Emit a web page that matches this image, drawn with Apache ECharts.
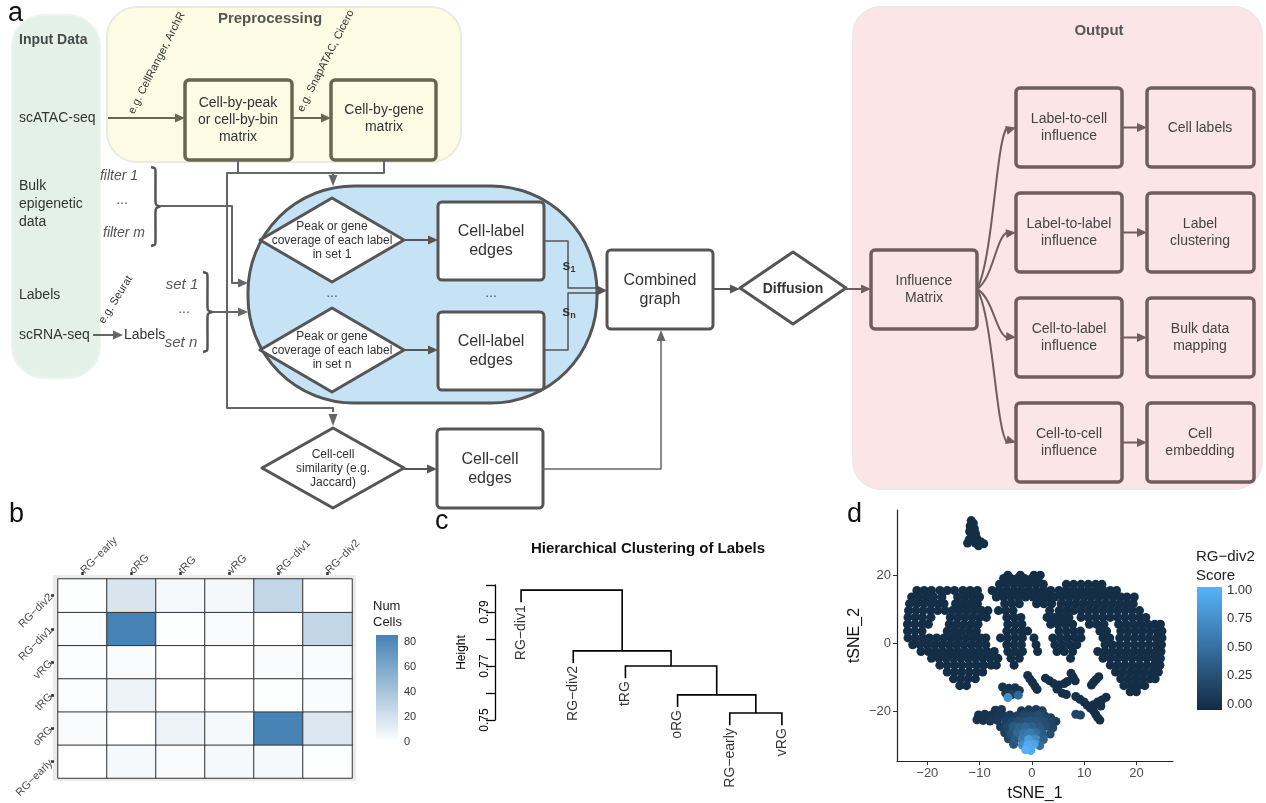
<!DOCTYPE html>
<html><head><meta charset="utf-8">
<script src="https://cdn.jsdelivr.net/npm/echarts@6/dist/echarts.min.js"></script>
<style>html,body{margin:0;padding:0;background:#fff}#c{width:1266px;height:803px}</style>
</head><body><div id="c"></div>
<script>
// ---------------- DATA ----------------
// panel b heatmap
const hmCols = ['RG−early','oRG','tRG','vRG','RG−div1','RG−div2'];
const hmRows = ['RG−early','oRG','tRG','vRG','RG−div1','RG−div2']; // bottom -> top
const hmValues = [
  [0, 4, 3, 4, 4, 1],     // RG−early
  [3, 0, 8, 4, 85, 17],   // oRG
  [2, 8, 0, 0, 1, 3],     // tRG
  [2, 3, 0, 0, 3, 3],     // vRG
  [2, 85, 1, 3, 0, 28],   // RG−div1
  [1, 18, 4, 5, 28, 0]    // RG−div2
];
const hmLegendTicks = [0, 20, 40, 60, 80];
const hmMax = 86;

// panel c dendrogram
const dendroLeaves = ['RG−div1','RG−div2','tRG','oRG','RG−early','vRG'];
// R hclust style merges: negative = leaf (1-based), positive = earlier merge
const dendroMerge = [[-5,-6,0.7526],[-4,1,0.7593],[-3,2,0.7700],[-2,3,0.7756],[-1,4,0.7981]];
const dendroHang = 0.0045;
const dendroTicks = [0.75,0.76,0.77,0.78,0.79,0.80];
const dendroLabels = [0.75,0.77,0.79];

// panel d tSNE
const tsneIsland = [[-11.6,36],[-11.2,35.2],[-11.8,34.4],[-11,33.6],[-11.9,32.8],[-10.8,32.2],[-11.6,31.4],[-10.6,31],[-12,30.4],[-11,30.2],[-9.8,29.8],[-12.3,29.4],[-10.8,29.4],[-9.2,29.2],[-10.2,28.6]];
const tsneMainRows = [
  [20.0, [-4.6,-2.2,0.4,1.6]],
  [19.0, [-5.4,-4,-2.8,-1.4,0,1.2]],
  [17.3, [-6.2,-4.8,-3.4,-2,-0.6,0.8,2.2,6.6,8,9.4,10.8,12.2,13.4]],
  [15.5, [-22,-20.6,-19.2,-17.6,-16.2,-14.8,-13.2,-11.8,-10.4,-7.6,-6.2,-4.8,-3.4,-2,-0.6,0.8,2.2,3.6,5.2,6.6,8,9.4,10.8,12.2,13.6,15,16.2]],
  [13.6, [-23,-21.6,-20.2,-18.8,-17.2,-14.2,-12.8,-11.4,-10,-6.8,-5.4,-4,-2.6,-1.2,0.2,1.6,3,4.4,5.8,7.2,8.6,10,11.4,12.8,14.2,15.6,17,18.2,19.6]],
  [11.6, [-23.4,-22,-20.6,-19.2,-17.8,-16.8,-14.6,-13.2,-11.8,-10.4,-5.2,-3.8,-2.4,0.9,2.3,3.8,5.6,7,8.4,9.8,11.2,12.6,14,15.4,16.8,18.2,19.4]],
  [9.6, [-23.6,-22.2,-20.8,-19.4,-18,-16.6,-15.2,-13.8,-12.4,-11,-9.6,-8.4,-6.4,-5,-3.6,3.4,5.2,6.6,8,9.4,10.8,12.2,13.6,15,16.4,17.8,19.2,20.6]],
  [7.6, [-23.7,-22.3,-20.9,-19.3,-15.6,-14.2,-12.8,-11.4,-10,-8.7,-4.8,-3.4,-2.1,2.9,4.3,5.7,7.1,9.4,10.8,12.2,13.6,15,16.4,17.8,19.2,20.6,21.8]],
  [5.6, [-23.8,-22.4,-21,-19.8,-15.8,-14.4,-13,-11.6,-10.3,-4.6,-3.2,-1.9,3.6,5,6.4,7.8,11,12.4,13.8,16.6,18,19.4,20.8,22.2,23.5,24.6]],
  [3.6, [-23.8,-22.4,-21,-16.2,-14.8,-13.4,-12,-10.6,-4.8,-3.4,-2,-0.8,5.2,6.6,8,9.3,13,14.3,17,18.4,19.8,21.2,22.6,24,24.9]],
  [1.6, [-23.7,-22.3,-20.9,-19.6,-18.2,-16.8,-15.4,-14,-12.6,-11.2,-9.8,-8.8,-6,-4.6,-3.2,-1.8,0.4,4,5.4,6.8,8.2,9.4,13.6,14.9,16.8,18.2,19.6,21,22.4,23.8,24.9]],
  [-0.4, [-22.8,-21.4,-20,-18.6,-17.2,-15.8,-14.4,-13,-11.6,-10.2,-8.8,-4.8,-3.4,-2,0.8,4.4,5.8,7.2,8.6,14,15.4,16.8,18.2,19.6,21,22.4,23.8,24.8]],
  [-2.4, [-21.2,-19.8,-18.4,-17,-15.6,-14.2,-12.8,-11.4,-10,-8.6,-7.2,-4.6,-3.2,-1.8,1.1,4.8,6.2,7.8,12.6,14,15.4,16.8,18.2,19.6,21,22.4,23.8,24.7]],
  [-4.4, [-19.2,-17.8,-16.4,-15,-13.6,-12.2,-10.8,-9.4,-8,-6.5,-4,-2.4,7.4,13.6,15,16.4,17.8,19.2,20.6,22,23.4,24.6]],
  [-6.4, [-17.6,-16.2,-14.8,-13.4,-12,-10.6,-9.2,-7.8,-6.8,-3.4,15,16.4,17.8,19.2,20.6,22,23.4,24.5]],
  [-8.4, [-16.2,-14.8,-13.4,-12,-10.6,-9.4,16,17.4,18.8,20.2,21.6,23,24.2]],
  [-10.4, [-15,-13.6,-12.2,-10.8,17,18.4,19.8,21.2,22.6,23.6]],
  [-12.4, [-13.8,-12.5,17.6,19,20.4,21.6]],
  [-14.2, [18.8,20]]
];
const tsneFragments = [
  [-5.6,-12.8,0.05],[-4.4,-13.2,0.05],[-3.2,-13,0.06],[-2.4,-13.8,0.08],[-5,-14.6,0.1],[-3.8,-15,0.15],[-2.6,-15.2,0.45],[-4.6,-15.9,0.75],
  [-0.8,-9.4,0.03],[-0.4,-10.4,0.03],[0.1,-11.4,0.03],[0.6,-12.6,0.03],[1,-13.5,0.03],
  [2.6,-10.2,0.03],[3.4,-11,0.03],[4.2,-11.8,0.03],[5.2,-12.2,0.03],[6.2,-11.8,0.03],[6.8,-11.2,0.03],[4.8,-13.4,0.03],[5.8,-14.6,0.03],[6.6,-15,0.03],
  [7.5,-8.8,0.03],[7.9,-9.9,0.03],[8.3,-11,0.03],
  [12.8,-9.8,0.03],[12.3,-10.6,0.03],[11.8,-11.4,0.03],[11.4,-12.2,0.03],
  [8.4,-15.6,0.03],[9.2,-16.4,0.03],[10,-17.2,0.03],[10.6,-18.2,0.03],[11.2,-19,0.03],[11.8,-19.8,0.03],[12.2,-20.8,0.03],[12.6,-21.8,0.03],[13,-22.5,0.03],
  [12.6,-17.2,0.03],[13.4,-16.6,0.03],[14.2,-15.8,0.03],[13.2,-18.4,0.03],[11.8,-18,0.03],[8.4,-20.8,0.2],[9.3,-21,0.2]
];
const tsneBottom = [
  [-7,-19.6,0.08],[-5.8,-19.4,0.1],[-2,-19.8,0.1],[-0.6,-19.5,0.12],[0.8,-19.4,0.12],[2,-19.8,0.15],
  [-10.2,-21,0.05],[-9,-20.8,0.06],[-7.8,-21.1,0.06],[-6.6,-21,0.08],[-5.4,-21.2,0.1],[-4.2,-21,0.12],[-2.8,-21.2,0.15],[-1.5,-21,0.2],[-0.2,-21.2,0.22],[1.2,-21,0.25],[2.5,-21.3,0.2],[3.6,-21.8,0.15],
  [-10.5,-22.4,0.05],[-9.3,-22.6,0.06],[-8,-22.8,0.08],[-6.6,-22.6,0.1],[-5,-22.8,0.15],[-3.8,-23,0.2],[-2.6,-22.8,0.25],[-1.4,-23,0.3],[-0.2,-22.8,0.3],[1,-23,0.3],[2.2,-22.8,0.25],[3.4,-23,0.2],[4.6,-22.9,0.15],
  [-6,-24.5,0.12],[-4.8,-24.6,0.2],[-3.6,-24.4,0.35],[-2.4,-24.6,0.4],[-1.2,-24.5,0.45],[0,-24.4,0.4],[1.4,-24.6,0.35],[2.8,-24.3,0.25],[4,-24.8,0.2],
  [-5.2,-26.2,0.15],[-4,-26.4,0.3],[-2.8,-26.2,0.45],[-1.6,-26.4,0.55],[-0.4,-26.3,0.6],[0.8,-26.2,0.5],[2,-26.4,0.35],[3.5,-26.6,0.25],
  [-4.5,-28,0.2],[-3.2,-28.2,0.35],[-1.8,-28,0.6],[-0.6,-28.2,0.85],[0.6,-28,0.7],[2.2,-28.2,0.4],
  [-3.5,-29.6,0.3],[-1.8,-29.8,0.7],[-0.8,-29.8,0.95],[0.4,-29.6,0.9],[1.5,-30,0.5],
  [-1.2,-31.2,1.0],[-0.2,-31.4,0.95]
];
const tsneBaseScore = 0.02;
const tsneXTicks = [-20,-10,0,10,20];
const tsneYTicks = [-20,0,20];
const scoreTicks = [0,0.25,0.5,0.75,1];

// ---------------- BUILD ----------------
const FONT = '"Liberation Sans", Arial, Helvetica, sans-serif';
const G = [];
function rect(x,y,w,h,r,fill,stroke,lw){G.push({type:'rect',silent:true,z:1,shape:{x:x,y:y,width:w,height:h,r:r},style:{fill:fill,stroke:stroke,lineWidth:lw}});}
function text(x,y,t,o){o=o||{};const sz=o.size||14;G.push({type:'text',silent:true,z:10,x:x,y:y,rotation:o.rot||0,style:{text:t,fill:o.color||'#333',fontSize:sz,fontFamily:FONT,fontWeight:o.weight||'normal',fontStyle:o.fstyle||'normal',align:o.align||'center',verticalAlign:o.va||'middle',lineHeight:o.lh||Math.round(sz*1.2),rich:o.rich}});}
function poly(pts,color,lw,smooth){G.push({type:'polyline',silent:true,z:3,shape:{points:pts,smooth:smooth||0},style:{stroke:color,lineWidth:lw,fill:null,lineJoin:'round'}});}
function head(tx,ty,ang,color,len,hw){const c=Math.cos(ang),s=Math.sin(ang);const bx=tx-c*len,by=ty-s*len;G.push({type:'polygon',silent:true,z:4,shape:{points:[[tx,ty],[bx-s*hw,by+c*hw],[bx+s*hw,by-c*hw]]},style:{fill:color}});}
function arrow(pts,color,lw){const n=pts.length;const a=pts[n-2],b=pts[n-1];const ang=Math.atan2(b[1]-a[1],b[0]-a[0]);const p=pts.slice(0,n-1);p.push([b[0]-Math.cos(ang)*8,b[1]-Math.sin(ang)*8]);poly(p,color,lw);head(b[0],b[1],ang,color,10,4.5);}
function diamond(cx,cy,w,h,stroke,lw){G.push({type:'polygon',silent:true,z:2,shape:{points:[[cx-w/2,cy],[cx,cy-h/2],[cx+w/2,cy],[cx,cy+h/2]]},style:{fill:'#fff',stroke:stroke,lineWidth:lw,lineJoin:'round'}});}
function brace(x,y0,y1,w){const ym=(y0+y1)/2;poly([[x,y0],[x+w*0.45,y0+1.5],[x+w*0.5,y0+6],[x+w*0.5,ym-5],[x+w*0.6,ym-1.5],[x+w,ym],[x+w*0.6,ym+1.5],[x+w*0.5,ym+5],[x+w*0.5,y1-6],[x+w*0.45,y1-1.5],[x,y1]],'#555',2.5,0.2);}
function minus(v){return String(v).replace('-','−');}

// panels
rect(12,15,88,363,32,'#e3f1e9','#edf4ef',2);
rect(107,7,354,155,30,'#fdfbe4','#ecebe2',2);
rect(853,7,409,482,28,'#fbe5e6','#f1e7e7',2);
rect(248,186,349,217,106,'#c5e3f5','#555',3);
// panel a labels
text(8,14,'a',{size:27,align:'left',color:'#111'});
text(19,40,'Input Data',{size:14,weight:'bold',align:'left',color:'#4a4a4a'});
text(270,19,'Preprocessing',{size:15,weight:'bold',color:'#555'});
text(1099,31,'Output',{size:15,weight:'bold',color:'#555'});
text(19,118,'scATAC-seq',{align:'left'});
text(19,204,'Bulk\nepigenetic\ndata',{align:'left',lh:18});
text(19,295,'Labels',{align:'left'});
text(19,335,'scRNA-seq',{align:'left'});
text(124,335,'Labels',{align:'left'});
text(119,176,'filter 1',{fstyle:'italic',color:'#555'});
text(122,200,'...',{color:'#555'});
text(124,233,'filter m',{fstyle:'italic',color:'#555'});
text(182,285,'set 1',{fstyle:'italic',size:15,color:'#555'});
text(184,309,'...',{color:'#555'});
text(181,343,'set n',{fstyle:'italic',size:15,color:'#555'});
text(137,116,'e.g. CellRanger, ArchR',{size:11,align:'left',va:'bottom',rot:63*Math.PI/180});
text(306,114,'e.g. SnapATAC, Cicero',{size:11,align:'left',va:'bottom',rot:63*Math.PI/180});
text(107,326,'e.g. Seurat',{size:11,align:'left',va:'bottom',rot:58*Math.PI/180});
brace(151,167,246,9);
brace(203,272,352,9);
// preprocessing boxes
rect(185,80,107,80,4,'#fdfbe4','#68664f',3.5);
text(238,120,'Cell-by-peak\nor cell-by-bin\nmatrix',{lh:17});
rect(331,80,105,80,4,'#fdfbe4','#68664f',3.5);
text(384,119,'Cell-by-gene\nmatrix',{lh:17});
arrow([[108,118],[185,118]],'#68664f',2);
arrow([[292,118],[331,118]],'#68664f',2);
// connectors left side
poly([[238,160],[238,173]],'#666',2);
poly([[384,160],[384,173],[227,173],[227,408],[333,408],[333,412]],'#666',2);
head(333,426,Math.PI/2,'#666',12,4.5);
poly([[333,173],[333,176]],'#666',2);
head(333,186,Math.PI/2,'#666',11,4.5);
arrow([[160,206],[232,206],[232,283],[248,283]],'#666',2);
arrow([[212,312],[248,312]],'#666',2);
arrow([[93,335],[123,335]],'#666',2);
// blue panel content
diamond(332,240,144,84,'#555',3);
text(332,241,'Peak or gene\ncoverage of each label\nin set 1',{size:12,lh:14});
diamond(332,350,144,84,'#555',3);
text(332,351,'Peak or gene\ncoverage of each label\nin set n',{size:12,lh:14});
text(332,293,'...',{color:'#555'});
text(491,293,'...',{color:'#555'});
rect(438,202,106,78,4,'#fff','#555',3);
text(491,241,'Cell-label\nedges',{size:16,lh:19});
rect(438,312,106,78,4,'#fff','#555',3);
text(491,351,'Cell-label\nedges',{size:16,lh:19});
arrow([[404,240],[438,240]],'#555',2);
arrow([[404,350],[438,350]],'#555',2);
poly([[544,241],[568,241],[568,288],[600,288]],'#555',1.5);
poly([[544,350],[568,350],[568,293],[600,293]],'#555',1.5);
head(607,290.5,0,'#555',10,5);
const subRich = {a:{fontSize:14,fontWeight:'bold',fill:'#333',fontFamily:FONT},b:{fontSize:9,fontWeight:'bold',fill:'#333',fontFamily:FONT,padding:[7,0,0,0]}};
text(569,266,'{a|s}{b|1}',{rich:subRich});
text(569,312,'{a|s}{b|n}',{rich:subRich});
// combined, cell-cell
rect(607,250,106,79,4,'#fff','#555',3);
text(660,290,'Combined\ngraph',{size:16,lh:19});
diamond(333,468,142,80,'#555',3);
text(333,469,'Cell-cell\nsimilarity (e.g.\nJaccard)',{size:12,lh:14});
rect(437,429,106,79,4,'#fff','#555',3);
text(490,469,'Cell-cell\nedges',{size:16,lh:19});
arrow([[404,469],[437,469]],'#555',2);
poly([[543,469],[661,469],[661,340]],'#666',1.5);
head(661,330,-Math.PI/2,'#666',11,4.5);
// diffusion
arrow([[713,289],[740,289]],'#555',2);
diamond(793,288,106,72,'#555',3);
text(793,289,'Diffusion',{size:14,weight:'bold'});
arrow([[846,289],[871,289]],'#6f5e5e',2);
// output
const OC = '#705e5e';
rect(871,250,106,79,4,'#fbe5e6',OC,3.5);
text(924,290,'Influence\nMatrix',{lh:17,color:'#444'});
const outRows = [88,193,298,403];
const outTxt = [['Label-to-cell\ninfluence','Cell labels'],['Label-to-label\ninfluence','Label\nclustering'],['Cell-to-label\ninfluence','Bulk data\nmapping'],['Cell-to-cell\ninfluence','Cell\nembedding']];
outRows.forEach(function(y,i){
  rect(1016,y,106,79,4,'#fbe5e6',OC,3.5);
  rect(1147,y,107,79,4,'#fbe5e6',OC,3.5);
  text(1069,y+40,outTxt[i][0],{lh:17,color:'#444'});
  text(1200,y+40,outTxt[i][1],{lh:17,color:'#444'});
  arrow([[1122,y+39.5],[1147,y+39.5]],OC,2);
  const ye=y+39.5, cpx2=996, cpy2=ye-(ye-289)*0.08;
  G.push({type:'bezierCurve',silent:true,z:3,shape:{x1:977,y1:289,cpx1:993,cpy1:289+(ye-289)*0.18,cpx2:cpx2,cpy2:cpy2,x2:1007,y2:ye},style:{stroke:OC,lineWidth:2,fill:null}});
  head(1016,ye,Math.atan2(ye-cpy2,1016-cpx2)*0.5,OC,10,4.5);
});
// other panel letters & titles
text(9,515,'b',{size:27,align:'left',color:'#111'});
text(435,522,'c',{size:27,align:'left',color:'#111'});
text(847,515,'d',{size:27,align:'left',color:'#111'});
text(648,549,'Hierarchical Clustering of Labels',{size:15,weight:'bold',color:'#111'});
text(373,614,'Num\nCells',{size:13,align:'left',lh:16,color:'#222'});
text(1196,566,'RG−div2\nScore',{size:15,align:'left',lh:19,color:'#222'});
// heatmap gray panel
G.push({type:'rect',silent:true,z:0,shape:{x:53,y:575,width:303,height:206},style:{fill:'#EBEBEB'}});

// heatmap data
const hmData = [];
hmValues.forEach(function(row,ri){row.forEach(function(v,ci){hmData.push([ci,ri,v]);});});

// dendrogram
const leafX = {}; dendroLeaves.forEach(function(n,i){leafX[-(i+1)] = i+1;});
const mergeInfo = [];
const dendroSegs = []; const leafPts = [];
dendroMerge.forEach(function(m,k){
  const h = m[2];
  function child(c){ if(c<0){ const bx=leafX[c]; leafPts.push({name:dendroLeaves[-c-1],value:[bx,h-dendroHang]}); return [bx,h-dendroHang]; } return [mergeInfo[c-1].x, mergeInfo[c-1].h]; }
  const L = child(m[0]), R = child(m[1]);
  mergeInfo.push({x:(L[0]+R[0])/2,h:h});
  dendroSegs.push({coords:[[L[0],L[1]],[L[0],h],[R[0],h],[R[0],R[1]]]});
});

// tsne data
let tsneData = tsneIsland.map(function(p){return [p[0],p[1],tsneBaseScore];});
tsneMainRows.forEach(function(r){r[1].forEach(function(x){tsneData.push([x,r[0],tsneBaseScore]);});});
tsneData = tsneData.concat(tsneFragments, tsneBottom);
tsneData.sort(function(a,b){return a[2]-b[2];});

const chart = echarts.init(document.getElementById('c'), null, {renderer:'canvas'});
chart.setOption({
  animation:false,
  backgroundColor:'#fff',
  textStyle:{fontFamily:FONT},
  graphic: G,
  grid:[
    {left:58,top:579,width:294,height:199},
    {left:376,top:635,width:22,height:107,show:true,borderWidth:0,backgroundColor:{type:'linear',x:0,y:0,x2:0,y2:1,colorStops:[{offset:0,color:'#4682B4'},{offset:1,color:'#FFFFFF'}]}},
    {left:495,top:585,width:313,height:135},
    {left:897,top:510,width:276,height:254},
    {left:1197,top:587,width:25,height:123,show:true,borderWidth:0,backgroundColor:{type:'linear',x:0,y:0,x2:0,y2:1,colorStops:[{offset:0,color:'#58B3FA'},{offset:1,color:'#132B43'}]}}
  ],
  xAxis:[
    {type:'category',gridIndex:0,data:hmCols,position:'top',offset:4,axisLine:{show:false},axisTick:{show:true,alignWithLabel:true,length:3,lineStyle:{color:'#333',width:2.5}},axisLabel:{rotate:-45,fontSize:11,color:'#4d4d4d',margin:3,fontFamily:FONT},splitLine:{show:false}},
    {type:'value',gridIndex:1,min:0,max:1,show:false},
    {type:'value',gridIndex:2,min:0.5,max:6.5,show:false},
    {type:'value',gridIndex:3,min:-25.8,max:27,axisLine:{onZero:false,lineStyle:{color:'#222',width:1.2}},axisTick:{customValues:tsneXTicks,length:4,lineStyle:{color:'#333'}},axisLabel:{customValues:tsneXTicks,fontSize:13,color:'#4d4d4d',margin:6,fontFamily:FONT,formatter:minus},splitLine:{show:false},name:'tSNE_1',nameLocation:'middle',nameGap:25,nameTextStyle:{fontSize:16,color:'#111',fontFamily:FONT}},
    {type:'value',gridIndex:4,min:0,max:1,show:false}
  ],
  yAxis:[
    {type:'category',gridIndex:0,data:hmRows,offset:4,axisLine:{show:false},axisTick:{show:true,alignWithLabel:true,length:3,lineStyle:{color:'#333',width:2.5}},axisLabel:{rotate:45,fontSize:11,color:'#4d4d4d',margin:3,fontFamily:FONT},splitLine:{show:false}},
    {type:'value',gridIndex:1,min:0,max:hmMax,position:'right',axisLine:{show:false},axisTick:{inside:true,length:4,customValues:hmLegendTicks,lineStyle:{color:'#fff',width:1}},axisLabel:{customValues:hmLegendTicks,fontSize:11,color:'#333',margin:6,fontFamily:FONT},splitLine:{show:false}},
    {type:'value',gridIndex:2,min:0.75,max:0.80,axisLine:{show:true,lineStyle:{color:'#000',width:1.3}},axisTick:{customValues:dendroTicks,length:9,lineStyle:{color:'#000',width:1.3}},axisLabel:{customValues:dendroLabels,rotate:90,fontSize:12,color:'#000',margin:4,fontFamily:FONT,formatter:function(v){return v.toFixed(2);}},splitLine:{show:false},name:'Height',nameLocation:'middle',nameRotate:90,nameGap:27,nameTextStyle:{fontSize:12,color:'#000',fontFamily:FONT}},
    {type:'value',gridIndex:3,min:-34.5,max:39.1,axisLine:{onZero:false,lineStyle:{color:'#222',width:1.2}},axisTick:{customValues:tsneYTicks,length:4,lineStyle:{color:'#333'}},axisLabel:{customValues:tsneYTicks,fontSize:13,color:'#4d4d4d',margin:6,fontFamily:FONT,formatter:minus},splitLine:{show:false},name:'tSNE_2',nameLocation:'middle',nameGap:34,nameTextStyle:{fontSize:16,color:'#111',fontFamily:FONT}},
    {type:'value',gridIndex:4,min:-0.053,max:1.026,position:'right',axisLine:{show:false},axisTick:{inside:true,length:5,customValues:scoreTicks,lineStyle:{color:'#fff',width:1}},axisLabel:{customValues:scoreTicks,fontSize:13,color:'#333',margin:5,fontFamily:FONT,formatter:function(v){return v.toFixed(2);}},splitLine:{show:false}}
  ],
  visualMap:[
    {type:'continuous',show:false,seriesIndex:0,dimension:2,min:0,max:hmMax,inRange:{color:['#FFFFFF','#4682B4']}},
    {type:'continuous',show:false,seriesIndex:3,dimension:2,min:0,max:1,inRange:{color:['#132B43','#56B1F7']}}
  ],
  series:[
    {type:'heatmap',xAxisIndex:0,yAxisIndex:0,data:hmData,itemStyle:{borderColor:'#333',borderWidth:1},emphasis:{disabled:true}},
    {type:'lines',coordinateSystem:'cartesian2d',xAxisIndex:2,yAxisIndex:2,polyline:true,clip:false,data:dendroSegs,lineStyle:{color:'#000',width:1.6,opacity:1}},
    {type:'scatter',xAxisIndex:2,yAxisIndex:2,clip:false,symbolSize:0,data:leafPts,label:{show:true,formatter:'{b}',position:'bottom',distance:3,rotate:90,align:'right',verticalAlign:'middle',fontSize:14,color:'#000',fontFamily:FONT}},
    {type:'scatter',xAxisIndex:3,yAxisIndex:3,symbolSize:9,data:tsneData,itemStyle:{opacity:1},emphasis:{disabled:true}}
  ]
});
</script>
</body></html>
